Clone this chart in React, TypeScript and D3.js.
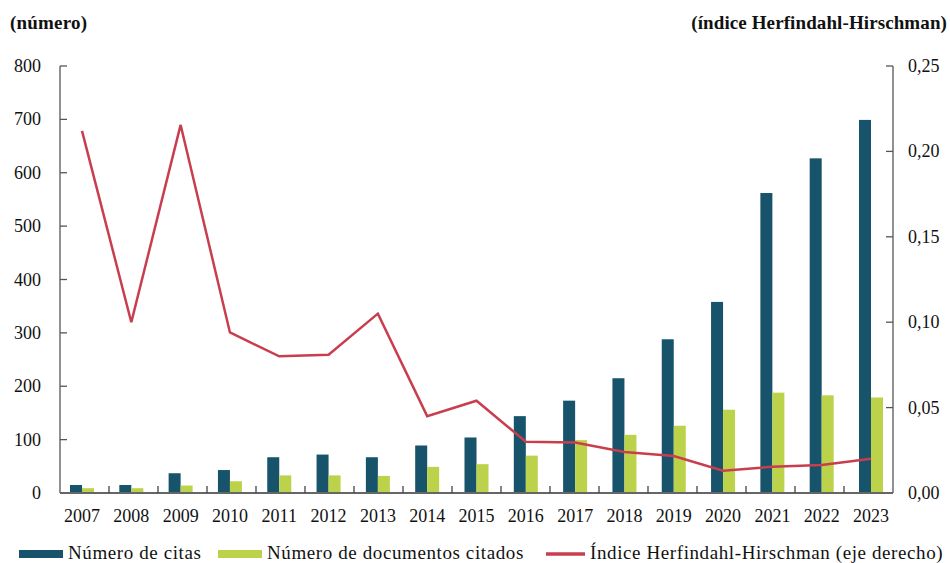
import * as d3 from 'd3';

const years = ['2007', '2008', '2009', '2010', '2011', '2012', '2013', '2014', '2015', '2016', '2017', '2018', '2019', '2020', '2021', '2022', '2023'];
const citas = [15, 15, 37, 43, 67, 72, 67, 89, 104, 144, 173, 215, 288, 358, 562, 627, 699];
const documentos = [9, 9, 14, 22, 33, 33, 32, 49, 54, 70, 99, 109, 126, 156, 188, 183, 179];
const hhi = [0.212, 0.1, 0.2155, 0.094, 0.08, 0.081, 0.105, 0.045, 0.054, 0.03, 0.0295, 0.024, 0.0217, 0.013, 0.0154, 0.0164, 0.02];
const leftTicks = [0, 100, 200, 300, 400, 500, 600, 700, 800];
const rightTicks = [0, 0.05, 0.1, 0.15, 0.2, 0.25];

const W = 950;
const H = 563;
const FONT = '"Liberation Serif", "DejaVu Serif", serif';
const DARK = '#17536a';
const LIGHT = '#bcd24a';
const RED = '#c93e4e';

export default function App() {
  const x0 = 60;
  const x1 = 893;
  const yTop = 66;
  const yBase = 493;

  // band for tick separators, point scale for bar pairs / labels / line
  const band = d3.scaleBand<string>().domain(years).range([x0, x1]).padding(0);
  const xc = d3.scalePoint<string>().domain(years).range([82, 871]);
  const yL = d3.scaleLinear().domain([0, 800]).range([yBase, yTop]);
  const yR = d3.scaleLinear().domain([0, 0.25]).range([yBase, yTop]);
  const barW = 12;

  const line = d3.line<number>()
    .x((_, i) => xc(years[i]) as number)
    .y(d => yR(d));

  const fmtR = (v: number) => v.toFixed(2).replace('.', ',');

  return (
    <svg width={W} height={H} style={{ position: 'absolute', left: 0, top: 0, background: '#fff' }} fontFamily={FONT}>
      <text x={10} y={29} fontSize={19} fontWeight="bold" fill="#111" letterSpacing={0.2}>(número)</text>
      <text x={947} y={29} fontSize={19} fontWeight="bold" fill="#111" letterSpacing={0.1} textAnchor="end">(índice Herfindahl-Hirschman)</text>

      {/* bars */}
      {years.map((yr, i) => {
        const c = xc(yr) as number;
        return (
          <g key={yr}>
            <rect x={c - barW} y={yL(citas[i])} width={barW} height={yBase - yL(citas[i])} fill={DARK} />
            <rect x={c} y={yL(documentos[i])} width={barW} height={yBase - yL(documentos[i])} fill={LIGHT} />
          </g>
        );
      })}

      {/* line */}
      <path d={line(hhi) || ''} fill="none" stroke={RED} strokeWidth={2.5} strokeLinejoin="miter" />

      {/* left axis */}
      <line x1={x0} x2={x0} y1={yTop} y2={yBase} stroke="#555" strokeWidth={1.3} />
      {leftTicks.map(t => (
        <g key={t}>
          <line x1={x0} x2={x0 + 7} y1={yL(t)} y2={yL(t)} stroke="#555" strokeWidth={1.3} />
          <text x={41} y={yL(t) + 6} fontSize={18} textAnchor="end" fill="#111">{t}</text>
        </g>
      ))}

      {/* right axis */}
      <line x1={x1} x2={x1} y1={yTop} y2={yBase} stroke="#555" strokeWidth={1.3} />
      {rightTicks.map(t => (
        <g key={t}>
          <line x1={x1 - 7} x2={x1} y1={yR(t)} y2={yR(t)} stroke="#555" strokeWidth={1.3} />
          <text x={908} y={yR(t) + 6} fontSize={18} fill="#111">{fmtR(t)}</text>
        </g>
      ))}

      {/* x axis */}
      <line x1={x0} x2={x1} y1={yBase} y2={yBase} stroke="#666" strokeWidth={2} />
      {years.slice(1).map(yr => (
        <line key={yr} x1={band(yr)} x2={band(yr)} y1={yBase} y2={yBase - 7} stroke="#444" strokeWidth={1.3} />
      ))}
      {years.map(yr => (
        <text key={yr} x={xc(yr)} y={522} fontSize={18} textAnchor="middle" fill="#111">{yr}</text>
      ))}

      {/* legend */}
      <g fontSize={19} letterSpacing={0.6} fill="#111">
        <rect x={19} y={550} width={44} height={8} fill={DARK} />
        <text x={68} y={559}>Número de citas</text>
        <rect x={218} y={550} width={44} height={8} fill={LIGHT} />
        <text x={267} y={559}>Número de documentos citados</text>
        <line x1={546} x2={585} y1={554} y2={554} stroke={RED} strokeWidth={3.5} />
        <text x={590} y={559}>Índice Herfindahl-Hirschman (eje derecho)</text>
      </g>
    </svg>
  );
}
